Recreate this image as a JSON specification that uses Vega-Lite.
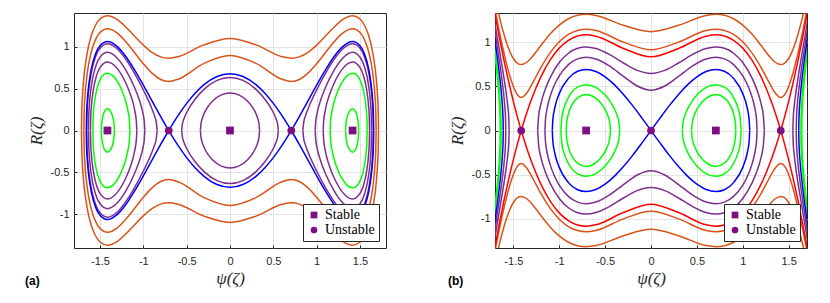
{
"$schema":"https://vega.github.io/schema/vega-lite/v6.json",
"background":"white",
"padding":{"left":24,"top":12,"right":0,"bottom":0},
"spacing":60,
"datasets":{
"aO":[
{"c":1,"x":-1.7138,"y":0},{"c":1,"x":-1.71,"y":0.244},{"c":1,"x":-1.705,"y":0.368},{"c":1,"x":-1.69,"y":0.591},{"c":1,"x":-1.65,"y":0.912},{"c":1,"x":-1.6,"y":1.131},{"c":1,"x":-1.55,"y":1.257},{"c":1,"x":-1.5,"y":1.328},{"c":1,"x":-1.4142,"y":1.366},{"c":1,"x":-1.3,"y":1.32},{"c":1,"x":-1.2,"y":1.23},{"c":1,"x":-1.1,"y":1.122},{"c":1,"x":-1,"y":1.017},{"c":1,"x":-0.9,"y":0.931},{"c":1,"x":-0.8,"y":0.877},{"c":1,"x":-0.7071,"y":0.861},{"c":1,"x":-0.6,"y":0.879},{"c":1,"x":-0.3,"y":1.02},{"c":1,"x":0,"y":1.095},{"c":1,"x":0.3,"y":1.02},{"c":1,"x":0.6,"y":0.879},{"c":1,"x":0.7071,"y":0.861},{"c":1,"x":0.8,"y":0.877},{"c":1,"x":0.9,"y":0.931},{"c":1,"x":1,"y":1.017},{"c":1,"x":1.1,"y":1.122},{"c":1,"x":1.2,"y":1.23},{"c":1,"x":1.3,"y":1.32},{"c":1,"x":1.4142,"y":1.366},{"c":1,"x":1.5,"y":1.328},{"c":1,"x":1.55,"y":1.257},{"c":1,"x":1.6,"y":1.131},{"c":1,"x":1.65,"y":0.912},{"c":1,"x":1.69,"y":0.591},{"c":1,"x":1.705,"y":0.368},{"c":1,"x":1.71,"y":0.244},{"c":1,"x":1.7138,"y":0},
{"c":2,"x":-1.7138,"y":0},{"c":2,"x":-1.71,"y":-0.244},{"c":2,"x":-1.705,"y":-0.368},{"c":2,"x":-1.69,"y":-0.591},{"c":2,"x":-1.65,"y":-0.912},{"c":2,"x":-1.6,"y":-1.131},{"c":2,"x":-1.55,"y":-1.257},{"c":2,"x":-1.5,"y":-1.328},{"c":2,"x":-1.4142,"y":-1.366},{"c":2,"x":-1.3,"y":-1.32},{"c":2,"x":-1.2,"y":-1.23},{"c":2,"x":-1.1,"y":-1.122},{"c":2,"x":-1,"y":-1.017},{"c":2,"x":-0.9,"y":-0.931},{"c":2,"x":-0.8,"y":-0.877},{"c":2,"x":-0.7071,"y":-0.861},{"c":2,"x":-0.6,"y":-0.879},{"c":2,"x":-0.3,"y":-1.02},{"c":2,"x":0,"y":-1.095},{"c":2,"x":0.3,"y":-1.02},{"c":2,"x":0.6,"y":-0.879},{"c":2,"x":0.7071,"y":-0.861},{"c":2,"x":0.8,"y":-0.877},{"c":2,"x":0.9,"y":-0.931},{"c":2,"x":1,"y":-1.017},{"c":2,"x":1.1,"y":-1.122},{"c":2,"x":1.2,"y":-1.23},{"c":2,"x":1.3,"y":-1.32},{"c":2,"x":1.4142,"y":-1.366},{"c":2,"x":1.5,"y":-1.328},{"c":2,"x":1.55,"y":-1.257},{"c":2,"x":1.6,"y":-1.131},{"c":2,"x":1.65,"y":-0.912},{"c":2,"x":1.69,"y":-0.591},{"c":2,"x":1.705,"y":-0.368},{"c":2,"x":1.71,"y":-0.244},{"c":2,"x":1.7138,"y":0},
{"c":3,"x":-1.6862,"y":0},{"c":3,"x":-1.682,"y":0.235},{"c":3,"x":-1.675,"y":0.38},{"c":3,"x":-1.65,"y":0.657},{"c":3,"x":-1.6,"y":0.938},{"c":3,"x":-1.55,"y":1.086},{"c":3,"x":-1.5,"y":1.167},{"c":3,"x":-1.4142,"y":1.211},{"c":3,"x":-1.3,"y":1.159},{"c":3,"x":-1.2,"y":1.055},{"c":3,"x":-1.1,"y":0.927},{"c":3,"x":-1,"y":0.796},{"c":3,"x":-0.9,"y":0.683},{"c":3,"x":-0.8,"y":0.608},{"c":3,"x":-0.7071,"y":0.585},{"c":3,"x":-0.6,"y":0.611},{"c":3,"x":-0.3,"y":0.8},{"c":3,"x":0,"y":0.894},{"c":3,"x":0.3,"y":0.8},{"c":3,"x":0.6,"y":0.611},{"c":3,"x":0.7071,"y":0.585},{"c":3,"x":0.8,"y":0.608},{"c":3,"x":0.9,"y":0.683},{"c":3,"x":1,"y":0.796},{"c":3,"x":1.1,"y":0.927},{"c":3,"x":1.2,"y":1.055},{"c":3,"x":1.3,"y":1.159},{"c":3,"x":1.4142,"y":1.211},{"c":3,"x":1.5,"y":1.167},{"c":3,"x":1.55,"y":1.086},{"c":3,"x":1.6,"y":0.938},{"c":3,"x":1.65,"y":0.657},{"c":3,"x":1.675,"y":0.38},{"c":3,"x":1.682,"y":0.235},{"c":3,"x":1.6862,"y":0},
{"c":4,"x":-1.6862,"y":0},{"c":4,"x":-1.682,"y":-0.235},{"c":4,"x":-1.675,"y":-0.38},{"c":4,"x":-1.65,"y":-0.657},{"c":4,"x":-1.6,"y":-0.938},{"c":4,"x":-1.55,"y":-1.086},{"c":4,"x":-1.5,"y":-1.167},{"c":4,"x":-1.4142,"y":-1.211},{"c":4,"x":-1.3,"y":-1.159},{"c":4,"x":-1.2,"y":-1.055},{"c":4,"x":-1.1,"y":-0.927},{"c":4,"x":-1,"y":-0.796},{"c":4,"x":-0.9,"y":-0.683},{"c":4,"x":-0.8,"y":-0.608},{"c":4,"x":-0.7071,"y":-0.585},{"c":4,"x":-0.6,"y":-0.611},{"c":4,"x":-0.3,"y":-0.8},{"c":4,"x":0,"y":-0.894},{"c":4,"x":0.3,"y":-0.8},{"c":4,"x":0.6,"y":-0.611},{"c":4,"x":0.7071,"y":-0.585},{"c":4,"x":0.8,"y":-0.608},{"c":4,"x":0.9,"y":-0.683},{"c":4,"x":1,"y":-0.796},{"c":4,"x":1.1,"y":-0.927},{"c":4,"x":1.2,"y":-1.055},{"c":4,"x":1.3,"y":-1.159},{"c":4,"x":1.4142,"y":-1.211},{"c":4,"x":1.5,"y":-1.167},{"c":4,"x":1.55,"y":-1.086},{"c":4,"x":1.6,"y":-0.938},{"c":4,"x":1.65,"y":-0.657},{"c":4,"x":1.675,"y":-0.38},{"c":4,"x":1.682,"y":-0.235},{"c":4,"x":1.6862,"y":0}
],
"aB":[
{"c":1,"x":-0.7071,"y":0},{"c":1,"x":-0.65,"y":0.097},{"c":1,"x":-0.6,"y":0.177},{"c":1,"x":-0.5,"y":0.323},{"c":1,"x":-0.4,"y":0.447},{"c":1,"x":-0.3,"y":0.546},{"c":1,"x":-0.15,"y":0.644},{"c":1,"x":0,"y":0.677},{"c":1,"x":0.15,"y":0.644},{"c":1,"x":0.3,"y":0.546},{"c":1,"x":0.4,"y":0.447},{"c":1,"x":0.5,"y":0.323},{"c":1,"x":0.6,"y":0.177},{"c":1,"x":0.65,"y":0.097},{"c":1,"x":0.7071,"y":0},
{"c":2,"x":-0.7071,"y":0},{"c":2,"x":-0.65,"y":-0.097},{"c":2,"x":-0.6,"y":-0.177},{"c":2,"x":-0.5,"y":-0.323},{"c":2,"x":-0.4,"y":-0.447},{"c":2,"x":-0.3,"y":-0.546},{"c":2,"x":-0.15,"y":-0.644},{"c":2,"x":0,"y":-0.677},{"c":2,"x":0.15,"y":-0.644},{"c":2,"x":0.3,"y":-0.546},{"c":2,"x":0.4,"y":-0.447},{"c":2,"x":0.5,"y":-0.323},{"c":2,"x":0.6,"y":-0.177},{"c":2,"x":0.65,"y":-0.097},{"c":2,"x":0.7071,"y":0},
{"c":3,"x":0.7071,"y":0},{"c":3,"x":0.8,"y":0.166},{"c":3,"x":0.9,"y":0.353},{"c":3,"x":1,"y":0.54},{"c":3,"x":1.1,"y":0.719},{"c":3,"x":1.2,"y":0.879},{"c":3,"x":1.3,"y":1},{"c":3,"x":1.4142,"y":1.061},{"c":3,"x":1.5,"y":1.01},{"c":3,"x":1.55,"y":0.916},{"c":3,"x":1.6,"y":0.733},{"c":3,"x":1.625,"y":0.578},{"c":3,"x":1.65,"y":0.301},{"c":3,"x":1.655,"y":0.192},{"c":3,"x":1.6583,"y":0},
{"c":4,"x":0.7071,"y":0},{"c":4,"x":0.8,"y":-0.166},{"c":4,"x":0.9,"y":-0.353},{"c":4,"x":1,"y":-0.54},{"c":4,"x":1.1,"y":-0.719},{"c":4,"x":1.2,"y":-0.879},{"c":4,"x":1.3,"y":-1},{"c":4,"x":1.4142,"y":-1.061},{"c":4,"x":1.5,"y":-1.01},{"c":4,"x":1.55,"y":-0.916},{"c":4,"x":1.6,"y":-0.733},{"c":4,"x":1.625,"y":-0.578},{"c":4,"x":1.65,"y":-0.301},{"c":4,"x":1.655,"y":-0.192},{"c":4,"x":1.6583,"y":0},
{"c":5,"x":-0.7071,"y":0},{"c":5,"x":-0.8,"y":0.166},{"c":5,"x":-0.9,"y":0.353},{"c":5,"x":-1,"y":0.54},{"c":5,"x":-1.1,"y":0.719},{"c":5,"x":-1.2,"y":0.879},{"c":5,"x":-1.3,"y":1},{"c":5,"x":-1.4142,"y":1.061},{"c":5,"x":-1.5,"y":1.01},{"c":5,"x":-1.55,"y":0.916},{"c":5,"x":-1.6,"y":0.733},{"c":5,"x":-1.625,"y":0.578},{"c":5,"x":-1.65,"y":0.301},{"c":5,"x":-1.655,"y":0.192},{"c":5,"x":-1.6583,"y":0},
{"c":6,"x":-0.7071,"y":0},{"c":6,"x":-0.8,"y":-0.166},{"c":6,"x":-0.9,"y":-0.353},{"c":6,"x":-1,"y":-0.54},{"c":6,"x":-1.1,"y":-0.719},{"c":6,"x":-1.2,"y":-0.879},{"c":6,"x":-1.3,"y":-1},{"c":6,"x":-1.4142,"y":-1.061},{"c":6,"x":-1.5,"y":-1.01},{"c":6,"x":-1.55,"y":-0.916},{"c":6,"x":-1.6,"y":-0.733},{"c":6,"x":-1.625,"y":-0.578},{"c":6,"x":-1.65,"y":-0.301},{"c":6,"x":-1.655,"y":-0.192},{"c":6,"x":-1.6583,"y":0}
],
"aP":[
{"c":1,"x":-0.5573,"y":0},{"c":1,"x":-0.55,"y":0.073},{"c":1,"x":-0.53,"y":0.144},{"c":1,"x":-0.5,"y":0.214},{"c":1,"x":-0.4,"y":0.376},{"c":1,"x":-0.3,"y":0.49},{"c":1,"x":-0.15,"y":0.597},{"c":1,"x":0,"y":0.632},{"c":1,"x":0.15,"y":0.597},{"c":1,"x":0.3,"y":0.49},{"c":1,"x":0.4,"y":0.376},{"c":1,"x":0.5,"y":0.214},{"c":1,"x":0.53,"y":0.144},{"c":1,"x":0.55,"y":0.073},{"c":1,"x":0.5573,"y":0},
{"c":2,"x":-0.5573,"y":0},{"c":2,"x":-0.55,"y":-0.073},{"c":2,"x":-0.53,"y":-0.144},{"c":2,"x":-0.5,"y":-0.214},{"c":2,"x":-0.4,"y":-0.376},{"c":2,"x":-0.3,"y":-0.49},{"c":2,"x":-0.15,"y":-0.597},{"c":2,"x":0,"y":-0.632},{"c":2,"x":0.15,"y":-0.597},{"c":2,"x":0.3,"y":-0.49},{"c":2,"x":0.4,"y":-0.376},{"c":2,"x":0.5,"y":-0.214},{"c":2,"x":0.53,"y":-0.144},{"c":2,"x":0.55,"y":-0.073},{"c":2,"x":0.5573,"y":0},
{"c":3,"x":-0.3412,"y":0},{"c":3,"x":-0.335,"y":0.078},{"c":3,"x":-0.32,"y":0.144},{"c":3,"x":-0.3,"y":0.199},{"c":3,"x":-0.25,"y":0.291},{"c":3,"x":-0.2,"y":0.352},{"c":3,"x":-0.1,"y":0.425},{"c":3,"x":0,"y":0.447},{"c":3,"x":0.1,"y":0.425},{"c":3,"x":0.2,"y":0.352},{"c":3,"x":0.25,"y":0.291},{"c":3,"x":0.3,"y":0.199},{"c":3,"x":0.32,"y":0.144},{"c":3,"x":0.335,"y":0.078},{"c":3,"x":0.3412,"y":0},
{"c":4,"x":-0.3412,"y":0},{"c":4,"x":-0.335,"y":-0.078},{"c":4,"x":-0.32,"y":-0.144},{"c":4,"x":-0.3,"y":-0.199},{"c":4,"x":-0.25,"y":-0.291},{"c":4,"x":-0.2,"y":-0.352},{"c":4,"x":-0.1,"y":-0.425},{"c":4,"x":0,"y":-0.447},{"c":4,"x":0.1,"y":-0.425},{"c":4,"x":0.2,"y":-0.352},{"c":4,"x":0.25,"y":-0.291},{"c":4,"x":0.3,"y":-0.199},{"c":4,"x":0.32,"y":-0.144},{"c":4,"x":0.335,"y":-0.078},{"c":4,"x":0.3412,"y":0},
{"c":5,"x":0.8408,"y":0},{"c":5,"x":0.85,"y":0.093},{"c":5,"x":0.87,"y":0.171},{"c":5,"x":0.9,"y":0.257},{"c":5,"x":1,"y":0.483},{"c":5,"x":1.1,"y":0.678},{"c":5,"x":1.2,"y":0.845},{"c":5,"x":1.3,"y":0.971},{"c":5,"x":1.4142,"y":1.033},{"c":5,"x":1.5,"y":0.981},{"c":5,"x":1.55,"y":0.883},{"c":5,"x":1.6,"y":0.692},{"c":5,"x":1.625,"y":0.525},{"c":5,"x":1.64,"y":0.367},{"c":5,"x":1.65,"y":0.18},{"c":5,"x":1.653,"y":0},
{"c":6,"x":0.8408,"y":0},{"c":6,"x":0.85,"y":-0.093},{"c":6,"x":0.87,"y":-0.171},{"c":6,"x":0.9,"y":-0.257},{"c":6,"x":1,"y":-0.483},{"c":6,"x":1.1,"y":-0.678},{"c":6,"x":1.2,"y":-0.845},{"c":6,"x":1.3,"y":-0.971},{"c":6,"x":1.4142,"y":-1.033},{"c":6,"x":1.5,"y":-0.981},{"c":6,"x":1.55,"y":-0.883},{"c":6,"x":1.6,"y":-0.692},{"c":6,"x":1.625,"y":-0.525},{"c":6,"x":1.64,"y":-0.367},{"c":6,"x":1.65,"y":-0.18},{"c":6,"x":1.653,"y":0},
{"c":7,"x":-0.8408,"y":0},{"c":7,"x":-0.85,"y":0.093},{"c":7,"x":-0.87,"y":0.171},{"c":7,"x":-0.9,"y":0.257},{"c":7,"x":-1,"y":0.483},{"c":7,"x":-1.1,"y":0.678},{"c":7,"x":-1.2,"y":0.845},{"c":7,"x":-1.3,"y":0.971},{"c":7,"x":-1.4142,"y":1.033},{"c":7,"x":-1.5,"y":0.981},{"c":7,"x":-1.55,"y":0.883},{"c":7,"x":-1.6,"y":0.692},{"c":7,"x":-1.625,"y":0.525},{"c":7,"x":-1.64,"y":0.367},{"c":7,"x":-1.65,"y":0.18},{"c":7,"x":-1.653,"y":0},
{"c":8,"x":-0.8408,"y":0},{"c":8,"x":-0.85,"y":-0.093},{"c":8,"x":-0.87,"y":-0.171},{"c":8,"x":-0.9,"y":-0.257},{"c":8,"x":-1,"y":-0.483},{"c":8,"x":-1.1,"y":-0.678},{"c":8,"x":-1.2,"y":-0.845},{"c":8,"x":-1.3,"y":-0.971},{"c":8,"x":-1.4142,"y":-1.033},{"c":8,"x":-1.5,"y":-0.981},{"c":8,"x":-1.55,"y":-0.883},{"c":8,"x":-1.6,"y":-0.692},{"c":8,"x":-1.625,"y":-0.525},{"c":8,"x":-1.64,"y":-0.367},{"c":8,"x":-1.65,"y":-0.18},{"c":8,"x":-1.653,"y":0},
{"c":9,"x":0.9829,"y":0},{"c":9,"x":0.99,"y":0.117},{"c":9,"x":1,"y":0.183},{"c":9,"x":1.05,"y":0.375},{"c":9,"x":1.1,"y":0.509},{"c":9,"x":1.2,"y":0.717},{"c":9,"x":1.3,"y":0.862},{"c":9,"x":1.4142,"y":0.931},{"c":9,"x":1.5,"y":0.873},{"c":9,"x":1.55,"y":0.762},{"c":9,"x":1.6,"y":0.528},{"c":9,"x":1.625,"y":0.275},{"c":9,"x":1.63,"y":0.174},{"c":9,"x":1.6332,"y":0},
{"c":10,"x":0.9829,"y":0},{"c":10,"x":0.99,"y":-0.117},{"c":10,"x":1,"y":-0.183},{"c":10,"x":1.05,"y":-0.375},{"c":10,"x":1.1,"y":-0.509},{"c":10,"x":1.2,"y":-0.717},{"c":10,"x":1.3,"y":-0.862},{"c":10,"x":1.4142,"y":-0.931},{"c":10,"x":1.5,"y":-0.873},{"c":10,"x":1.55,"y":-0.762},{"c":10,"x":1.6,"y":-0.528},{"c":10,"x":1.625,"y":-0.275},{"c":10,"x":1.63,"y":-0.174},{"c":10,"x":1.6332,"y":0},
{"c":11,"x":-0.9829,"y":0},{"c":11,"x":-0.99,"y":0.117},{"c":11,"x":-1,"y":0.183},{"c":11,"x":-1.05,"y":0.375},{"c":11,"x":-1.1,"y":0.509},{"c":11,"x":-1.2,"y":0.717},{"c":11,"x":-1.3,"y":0.862},{"c":11,"x":-1.4142,"y":0.931},{"c":11,"x":-1.5,"y":0.873},{"c":11,"x":-1.55,"y":0.762},{"c":11,"x":-1.6,"y":0.528},{"c":11,"x":-1.625,"y":0.275},{"c":11,"x":-1.63,"y":0.174},{"c":11,"x":-1.6332,"y":0},
{"c":12,"x":-0.9829,"y":0},{"c":12,"x":-0.99,"y":-0.117},{"c":12,"x":-1,"y":-0.183},{"c":12,"x":-1.05,"y":-0.375},{"c":12,"x":-1.1,"y":-0.509},{"c":12,"x":-1.2,"y":-0.717},{"c":12,"x":-1.3,"y":-0.862},{"c":12,"x":-1.4142,"y":-0.931},{"c":12,"x":-1.5,"y":-0.873},{"c":12,"x":-1.55,"y":-0.762},{"c":12,"x":-1.6,"y":-0.528},{"c":12,"x":-1.625,"y":-0.275},{"c":12,"x":-1.63,"y":-0.174},{"c":12,"x":-1.6332,"y":0},
{"c":13,"x":1.0756,"y":0},{"c":13,"x":1.08,"y":0.103},{"c":13,"x":1.1,"y":0.243},{"c":13,"x":1.15,"y":0.431},{"c":13,"x":1.2,"y":0.56},{"c":13,"x":1.3,"y":0.737},{"c":13,"x":1.4142,"y":0.816},{"c":13,"x":1.5,"y":0.75},{"c":13,"x":1.55,"y":0.617},{"c":13,"x":1.575,"y":0.496},{"c":13,"x":1.6,"y":0.281},{"c":13,"x":1.607,"y":0.162},{"c":13,"x":1.6103,"y":0},
{"c":14,"x":1.0756,"y":0},{"c":14,"x":1.08,"y":-0.103},{"c":14,"x":1.1,"y":-0.243},{"c":14,"x":1.15,"y":-0.431},{"c":14,"x":1.2,"y":-0.56},{"c":14,"x":1.3,"y":-0.737},{"c":14,"x":1.4142,"y":-0.816},{"c":14,"x":1.5,"y":-0.75},{"c":14,"x":1.55,"y":-0.617},{"c":14,"x":1.575,"y":-0.496},{"c":14,"x":1.6,"y":-0.281},{"c":14,"x":1.607,"y":-0.162},{"c":14,"x":1.6103,"y":0},
{"c":15,"x":-1.0756,"y":0},{"c":15,"x":-1.08,"y":0.103},{"c":15,"x":-1.1,"y":0.243},{"c":15,"x":-1.15,"y":0.431},{"c":15,"x":-1.2,"y":0.56},{"c":15,"x":-1.3,"y":0.737},{"c":15,"x":-1.4142,"y":0.816},{"c":15,"x":-1.5,"y":0.75},{"c":15,"x":-1.55,"y":0.617},{"c":15,"x":-1.575,"y":0.496},{"c":15,"x":-1.6,"y":0.281},{"c":15,"x":-1.607,"y":0.162},{"c":15,"x":-1.6103,"y":0},
{"c":16,"x":-1.0756,"y":0},{"c":16,"x":-1.08,"y":-0.103},{"c":16,"x":-1.1,"y":-0.243},{"c":16,"x":-1.15,"y":-0.431},{"c":16,"x":-1.2,"y":-0.56},{"c":16,"x":-1.3,"y":-0.737},{"c":16,"x":-1.4142,"y":-0.816},{"c":16,"x":-1.5,"y":-0.75},{"c":16,"x":-1.55,"y":-0.617},{"c":16,"x":-1.575,"y":-0.496},{"c":16,"x":-1.6,"y":-0.281},{"c":16,"x":-1.607,"y":-0.162},{"c":16,"x":-1.6103,"y":0}
],
"aG":[
{"c":1,"x":1.1557,"y":0},{"c":1,"x":1.16,"y":0.106},{"c":1,"x":1.175,"y":0.223},{"c":1,"x":1.2,"y":0.337},{"c":1,"x":1.25,"y":0.485},{"c":1,"x":1.3,"y":0.585},{"c":1,"x":1.35,"y":0.651},{"c":1,"x":1.4142,"y":0.683},{"c":1,"x":1.45,"y":0.671},{"c":1,"x":1.5,"y":0.602},{"c":1,"x":1.55,"y":0.425},{"c":1,"x":1.575,"y":0.215},{"c":1,"x":1.58,"y":0.125},{"c":1,"x":1.5825,"y":0},
{"c":2,"x":1.1557,"y":0},{"c":2,"x":1.16,"y":-0.106},{"c":2,"x":1.175,"y":-0.223},{"c":2,"x":1.2,"y":-0.337},{"c":2,"x":1.25,"y":-0.485},{"c":2,"x":1.3,"y":-0.585},{"c":2,"x":1.35,"y":-0.651},{"c":2,"x":1.4142,"y":-0.683},{"c":2,"x":1.45,"y":-0.671},{"c":2,"x":1.5,"y":-0.602},{"c":2,"x":1.55,"y":-0.425},{"c":2,"x":1.575,"y":-0.215},{"c":2,"x":1.58,"y":-0.125},{"c":2,"x":1.5825,"y":0},
{"c":3,"x":-1.1557,"y":0},{"c":3,"x":-1.16,"y":0.106},{"c":3,"x":-1.175,"y":0.223},{"c":3,"x":-1.2,"y":0.337},{"c":3,"x":-1.25,"y":0.485},{"c":3,"x":-1.3,"y":0.585},{"c":3,"x":-1.35,"y":0.651},{"c":3,"x":-1.4142,"y":0.683},{"c":3,"x":-1.45,"y":0.671},{"c":3,"x":-1.5,"y":0.602},{"c":3,"x":-1.55,"y":0.425},{"c":3,"x":-1.575,"y":0.215},{"c":3,"x":-1.58,"y":0.125},{"c":3,"x":-1.5825,"y":0},
{"c":4,"x":-1.1557,"y":0},{"c":4,"x":-1.16,"y":-0.106},{"c":4,"x":-1.175,"y":-0.223},{"c":4,"x":-1.2,"y":-0.337},{"c":4,"x":-1.25,"y":-0.485},{"c":4,"x":-1.3,"y":-0.585},{"c":4,"x":-1.35,"y":-0.651},{"c":4,"x":-1.4142,"y":-0.683},{"c":4,"x":-1.45,"y":-0.671},{"c":4,"x":-1.5,"y":-0.602},{"c":4,"x":-1.55,"y":-0.425},{"c":4,"x":-1.575,"y":-0.215},{"c":4,"x":-1.58,"y":-0.125},{"c":4,"x":-1.5825,"y":0},
{"c":5,"x":1.3334,"y":0},{"c":5,"x":1.34,"y":0.098},{"c":5,"x":1.35,"y":0.152},{"c":5,"x":1.375,"y":0.223},{"c":5,"x":1.4142,"y":0.258},{"c":5,"x":1.45,"y":0.224},{"c":5,"x":1.475,"y":0.13},{"c":5,"x":1.48,"y":0.088},{"c":5,"x":1.4839,"y":0},
{"c":6,"x":1.3334,"y":0},{"c":6,"x":1.34,"y":-0.098},{"c":6,"x":1.35,"y":-0.152},{"c":6,"x":1.375,"y":-0.223},{"c":6,"x":1.4142,"y":-0.258},{"c":6,"x":1.45,"y":-0.224},{"c":6,"x":1.475,"y":-0.13},{"c":6,"x":1.48,"y":-0.088},{"c":6,"x":1.4839,"y":0},
{"c":7,"x":-1.3334,"y":0},{"c":7,"x":-1.34,"y":0.098},{"c":7,"x":-1.35,"y":0.152},{"c":7,"x":-1.375,"y":0.223},{"c":7,"x":-1.4142,"y":0.258},{"c":7,"x":-1.45,"y":0.224},{"c":7,"x":-1.475,"y":0.13},{"c":7,"x":-1.48,"y":0.088},{"c":7,"x":-1.4839,"y":0},
{"c":8,"x":-1.3334,"y":0},{"c":8,"x":-1.34,"y":-0.098},{"c":8,"x":-1.35,"y":-0.152},{"c":8,"x":-1.375,"y":-0.223},{"c":8,"x":-1.4142,"y":-0.258},{"c":8,"x":-1.45,"y":-0.224},{"c":8,"x":-1.475,"y":-0.13},{"c":8,"x":-1.48,"y":-0.088},{"c":8,"x":-1.4839,"y":0}
],
"aS":[
{"x":-1.4142,"y":0,"s":"Stable"},{"x":0,"y":0,"s":"Stable"},{"x":1.4142,"y":0,"s":"Stable"},{"x":-0.7071,"y":0,"s":"Unstable"},{"x":0.7071,"y":0,"s":"Unstable"}
],
"bO":[
{"c":1,"x":-1.7,"y":1.517},{"c":1,"x":-1.65,"y":1.283},{"c":1,"x":-1.6,"y":1.085},{"c":1,"x":-1.5,"y":0.818},{"c":1,"x":-1.45,"y":0.76},{"c":1,"x":-1.4142,"y":0.749},{"c":1,"x":-1.35,"y":0.778},{"c":1,"x":-1.3,"y":0.831},{"c":1,"x":-1.2,"y":0.965},{"c":1,"x":-1.1,"y":1.095},{"c":1,"x":-1,"y":1.198},{"c":1,"x":-0.9,"y":1.27},{"c":1,"x":-0.8,"y":1.309},{"c":1,"x":-0.7071,"y":1.32},{"c":1,"x":-0.6,"y":1.307},{"c":1,"x":-0.3,"y":1.195},{"c":1,"x":0,"y":1.123},{"c":1,"x":0.3,"y":1.195},{"c":1,"x":0.6,"y":1.307},{"c":1,"x":0.7071,"y":1.32},{"c":1,"x":0.8,"y":1.309},{"c":1,"x":0.9,"y":1.27},{"c":1,"x":1,"y":1.198},{"c":1,"x":1.1,"y":1.095},{"c":1,"x":1.2,"y":0.965},{"c":1,"x":1.3,"y":0.831},{"c":1,"x":1.35,"y":0.778},{"c":1,"x":1.4142,"y":0.749},{"c":1,"x":1.45,"y":0.76},{"c":1,"x":1.5,"y":0.818},{"c":1,"x":1.6,"y":1.085},{"c":1,"x":1.65,"y":1.283},{"c":1,"x":1.7,"y":1.517},
{"c":2,"x":-1.7,"y":-1.517},{"c":2,"x":-1.65,"y":-1.283},{"c":2,"x":-1.6,"y":-1.085},{"c":2,"x":-1.5,"y":-0.818},{"c":2,"x":-1.45,"y":-0.76},{"c":2,"x":-1.4142,"y":-0.749},{"c":2,"x":-1.35,"y":-0.778},{"c":2,"x":-1.3,"y":-0.831},{"c":2,"x":-1.2,"y":-0.965},{"c":2,"x":-1.1,"y":-1.095},{"c":2,"x":-1,"y":-1.198},{"c":2,"x":-0.9,"y":-1.27},{"c":2,"x":-0.8,"y":-1.309},{"c":2,"x":-0.7071,"y":-1.32},{"c":2,"x":-0.6,"y":-1.307},{"c":2,"x":-0.3,"y":-1.195},{"c":2,"x":0,"y":-1.123},{"c":2,"x":0.3,"y":-1.195},{"c":2,"x":0.6,"y":-1.307},{"c":2,"x":0.7071,"y":-1.32},{"c":2,"x":0.8,"y":-1.309},{"c":2,"x":0.9,"y":-1.27},{"c":2,"x":1,"y":-1.198},{"c":2,"x":1.1,"y":-1.095},{"c":2,"x":1.2,"y":-0.965},{"c":2,"x":1.3,"y":-0.831},{"c":2,"x":1.35,"y":-0.778},{"c":2,"x":1.4142,"y":-0.749},{"c":2,"x":1.45,"y":-0.76},{"c":2,"x":1.5,"y":-0.818},{"c":2,"x":1.6,"y":-1.085},{"c":2,"x":1.65,"y":-1.283},{"c":2,"x":1.7,"y":-1.517},
{"c":3,"x":-1.7,"y":1.372},{"c":3,"x":-1.65,"y":1.108},{"c":3,"x":-1.6,"y":0.87},{"c":3,"x":-1.55,"y":0.664},{"c":3,"x":-1.5,"y":0.499},{"c":3,"x":-1.45,"y":0.397},{"c":3,"x":-1.4142,"y":0.374},{"c":3,"x":-1.35,"y":0.431},{"c":3,"x":-1.3,"y":0.52},{"c":3,"x":-1.2,"y":0.715},{"c":3,"x":-1.1,"y":0.882},{"c":3,"x":-1,"y":1.008},{"c":3,"x":-0.9,"y":1.092},{"c":3,"x":-0.8,"y":1.137},{"c":3,"x":-0.7071,"y":1.15},{"c":3,"x":-0.6,"y":1.135},{"c":3,"x":-0.3,"y":1.004},{"c":3,"x":0,"y":0.917},{"c":3,"x":0.3,"y":1.004},{"c":3,"x":0.6,"y":1.135},{"c":3,"x":0.7071,"y":1.15},{"c":3,"x":0.8,"y":1.137},{"c":3,"x":0.9,"y":1.092},{"c":3,"x":1,"y":1.008},{"c":3,"x":1.1,"y":0.882},{"c":3,"x":1.2,"y":0.715},{"c":3,"x":1.3,"y":0.52},{"c":3,"x":1.35,"y":0.431},{"c":3,"x":1.4142,"y":0.374},{"c":3,"x":1.45,"y":0.397},{"c":3,"x":1.5,"y":0.499},{"c":3,"x":1.55,"y":0.664},{"c":3,"x":1.6,"y":0.87},{"c":3,"x":1.65,"y":1.108},{"c":3,"x":1.7,"y":1.372},
{"c":4,"x":-1.7,"y":-1.372},{"c":4,"x":-1.65,"y":-1.108},{"c":4,"x":-1.6,"y":-0.87},{"c":4,"x":-1.55,"y":-0.664},{"c":4,"x":-1.5,"y":-0.499},{"c":4,"x":-1.45,"y":-0.397},{"c":4,"x":-1.4142,"y":-0.374},{"c":4,"x":-1.35,"y":-0.431},{"c":4,"x":-1.3,"y":-0.52},{"c":4,"x":-1.2,"y":-0.715},{"c":4,"x":-1.1,"y":-0.882},{"c":4,"x":-1,"y":-1.008},{"c":4,"x":-0.9,"y":-1.092},{"c":4,"x":-0.8,"y":-1.137},{"c":4,"x":-0.7071,"y":-1.15},{"c":4,"x":-0.6,"y":-1.135},{"c":4,"x":-0.3,"y":-1.004},{"c":4,"x":0,"y":-0.917},{"c":4,"x":0.3,"y":-1.004},{"c":4,"x":0.6,"y":-1.135},{"c":4,"x":0.7071,"y":-1.15},{"c":4,"x":0.8,"y":-1.137},{"c":4,"x":0.9,"y":-1.092},{"c":4,"x":1,"y":-1.008},{"c":4,"x":1.1,"y":-0.882},{"c":4,"x":1.2,"y":-0.715},{"c":4,"x":1.3,"y":-0.52},{"c":4,"x":1.35,"y":-0.431},{"c":4,"x":1.4142,"y":-0.374},{"c":4,"x":1.45,"y":-0.397},{"c":4,"x":1.5,"y":-0.499},{"c":4,"x":1.55,"y":-0.664},{"c":4,"x":1.6,"y":-0.87},{"c":4,"x":1.65,"y":-1.108},{"c":4,"x":1.7,"y":-1.372}
],
"bR":[
{"c":1,"x":-1.4142,"y":0},{"c":1,"x":-1.38,"y":0.117},{"c":1,"x":-1.35,"y":0.214},{"c":1,"x":-1.3,"y":0.361},{"c":1,"x":-1.2,"y":0.609},{"c":1,"x":-1.1,"y":0.799},{"c":1,"x":-1,"y":0.936},{"c":1,"x":-0.9,"y":1.025},{"c":1,"x":-0.8,"y":1.074},{"c":1,"x":-0.7071,"y":1.087},{"c":1,"x":-0.6,"y":1.072},{"c":1,"x":-0.3,"y":0.932},{"c":1,"x":0,"y":0.837},{"c":1,"x":0.3,"y":0.932},{"c":1,"x":0.6,"y":1.072},{"c":1,"x":0.7071,"y":1.087},{"c":1,"x":0.8,"y":1.074},{"c":1,"x":0.9,"y":1.025},{"c":1,"x":1,"y":0.936},{"c":1,"x":1.1,"y":0.799},{"c":1,"x":1.2,"y":0.609},{"c":1,"x":1.3,"y":0.361},{"c":1,"x":1.35,"y":0.214},{"c":1,"x":1.38,"y":0.117},{"c":1,"x":1.4142,"y":0},
{"c":2,"x":-1.4142,"y":0},{"c":2,"x":-1.38,"y":-0.117},{"c":2,"x":-1.35,"y":-0.214},{"c":2,"x":-1.3,"y":-0.361},{"c":2,"x":-1.2,"y":-0.609},{"c":2,"x":-1.1,"y":-0.799},{"c":2,"x":-1,"y":-0.936},{"c":2,"x":-0.9,"y":-1.025},{"c":2,"x":-0.8,"y":-1.074},{"c":2,"x":-0.7071,"y":-1.087},{"c":2,"x":-0.6,"y":-1.072},{"c":2,"x":-0.3,"y":-0.932},{"c":2,"x":0,"y":-0.837},{"c":2,"x":0.3,"y":-0.932},{"c":2,"x":0.6,"y":-1.072},{"c":2,"x":0.7071,"y":-1.087},{"c":2,"x":0.8,"y":-1.074},{"c":2,"x":0.9,"y":-1.025},{"c":2,"x":1,"y":-0.936},{"c":2,"x":1.1,"y":-0.799},{"c":2,"x":1.2,"y":-0.609},{"c":2,"x":1.3,"y":-0.361},{"c":2,"x":1.35,"y":-0.214},{"c":2,"x":1.38,"y":-0.117},{"c":2,"x":1.4142,"y":0},
{"c":3,"x":1.4142,"y":0},{"c":3,"x":1.45,"y":0.132},{"c":3,"x":1.5,"y":0.331},{"c":3,"x":1.55,"y":0.549},{"c":3,"x":1.6,"y":0.786},{"c":3,"x":1.65,"y":1.043},{"c":3,"x":1.7,"y":1.32},{"c":3,"x":1.75,"y":1.618},
{"c":4,"x":1.4142,"y":0},{"c":4,"x":1.45,"y":-0.132},{"c":4,"x":1.5,"y":-0.331},{"c":4,"x":1.55,"y":-0.549},{"c":4,"x":1.6,"y":-0.786},{"c":4,"x":1.65,"y":-1.043},{"c":4,"x":1.7,"y":-1.32},{"c":4,"x":1.75,"y":-1.618},
{"c":5,"x":-1.4142,"y":0},{"c":5,"x":-1.45,"y":0.132},{"c":5,"x":-1.5,"y":0.331},{"c":5,"x":-1.55,"y":0.549},{"c":5,"x":-1.6,"y":0.786},{"c":5,"x":-1.65,"y":1.043},{"c":5,"x":-1.7,"y":1.32},{"c":5,"x":-1.75,"y":1.618},
{"c":6,"x":-1.4142,"y":0},{"c":6,"x":-1.45,"y":-0.132},{"c":6,"x":-1.5,"y":-0.331},{"c":6,"x":-1.55,"y":-0.549},{"c":6,"x":-1.6,"y":-0.786},{"c":6,"x":-1.65,"y":-1.043},{"c":6,"x":-1.7,"y":-1.32},{"c":6,"x":-1.75,"y":-1.618}
],
"bP":[
{"c":1,"x":-1.2351,"y":0},{"c":1,"x":-1.225,"y":0.16},{"c":1,"x":-1.2,"y":0.302},{"c":1,"x":-1.15,"y":0.475},{"c":1,"x":-1.1,"y":0.598},{"c":1,"x":-1,"y":0.772},{"c":1,"x":-0.9,"y":0.878},{"c":1,"x":-0.8,"y":0.934},{"c":1,"x":-0.7071,"y":0.95},{"c":1,"x":-0.6,"y":0.932},{"c":1,"x":-0.45,"y":0.862},{"c":1,"x":-0.3,"y":0.767},{"c":1,"x":-0.15,"y":0.683},{"c":1,"x":0,"y":0.648},{"c":1,"x":0.15,"y":0.683},{"c":1,"x":0.3,"y":0.767},{"c":1,"x":0.45,"y":0.862},{"c":1,"x":0.6,"y":0.932},{"c":1,"x":0.7071,"y":0.95},{"c":1,"x":0.8,"y":0.934},{"c":1,"x":0.9,"y":0.878},{"c":1,"x":1,"y":0.772},{"c":1,"x":1.1,"y":0.598},{"c":1,"x":1.15,"y":0.475},{"c":1,"x":1.2,"y":0.302},{"c":1,"x":1.225,"y":0.16},{"c":1,"x":1.2351,"y":0},
{"c":2,"x":-1.2351,"y":0},{"c":2,"x":-1.225,"y":-0.16},{"c":2,"x":-1.2,"y":-0.302},{"c":2,"x":-1.15,"y":-0.475},{"c":2,"x":-1.1,"y":-0.598},{"c":2,"x":-1,"y":-0.772},{"c":2,"x":-0.9,"y":-0.878},{"c":2,"x":-0.8,"y":-0.934},{"c":2,"x":-0.7071,"y":-0.95},{"c":2,"x":-0.6,"y":-0.932},{"c":2,"x":-0.45,"y":-0.862},{"c":2,"x":-0.3,"y":-0.767},{"c":2,"x":-0.15,"y":-0.683},{"c":2,"x":0,"y":-0.648},{"c":2,"x":0.15,"y":-0.683},{"c":2,"x":0.3,"y":-0.767},{"c":2,"x":0.45,"y":-0.862},{"c":2,"x":0.6,"y":-0.932},{"c":2,"x":0.7071,"y":-0.95},{"c":2,"x":0.8,"y":-0.934},{"c":2,"x":0.9,"y":-0.878},{"c":2,"x":1,"y":-0.772},{"c":2,"x":1.1,"y":-0.598},{"c":2,"x":1.15,"y":-0.475},{"c":2,"x":1.2,"y":-0.302},{"c":2,"x":1.225,"y":-0.16},{"c":2,"x":1.2351,"y":0},
{"c":3,"x":-1.1557,"y":0},{"c":3,"x":-1.15,"y":0.124},{"c":3,"x":-1.14,"y":0.205},{"c":3,"x":-1.125,"y":0.287},{"c":3,"x":-1.1,"y":0.385},{"c":3,"x":-1.05,"y":0.522},{"c":3,"x":-1,"y":0.621},{"c":3,"x":-0.9,"y":0.749},{"c":3,"x":-0.8,"y":0.814},{"c":3,"x":-0.7071,"y":0.832},{"c":3,"x":-0.6,"y":0.812},{"c":3,"x":-0.45,"y":0.731},{"c":3,"x":-0.3,"y":0.615},{"c":3,"x":-0.15,"y":0.506},{"c":3,"x":0,"y":0.458},{"c":3,"x":0.15,"y":0.506},{"c":3,"x":0.3,"y":0.615},{"c":3,"x":0.45,"y":0.731},{"c":3,"x":0.6,"y":0.812},{"c":3,"x":0.7071,"y":0.832},{"c":3,"x":0.8,"y":0.814},{"c":3,"x":0.9,"y":0.749},{"c":3,"x":1,"y":0.621},{"c":3,"x":1.05,"y":0.522},{"c":3,"x":1.1,"y":0.385},{"c":3,"x":1.125,"y":0.287},{"c":3,"x":1.14,"y":0.205},{"c":3,"x":1.15,"y":0.124},{"c":3,"x":1.1557,"y":0},
{"c":4,"x":-1.1557,"y":0},{"c":4,"x":-1.15,"y":-0.124},{"c":4,"x":-1.14,"y":-0.205},{"c":4,"x":-1.125,"y":-0.287},{"c":4,"x":-1.1,"y":-0.385},{"c":4,"x":-1.05,"y":-0.522},{"c":4,"x":-1,"y":-0.621},{"c":4,"x":-0.9,"y":-0.749},{"c":4,"x":-0.8,"y":-0.814},{"c":4,"x":-0.7071,"y":-0.832},{"c":4,"x":-0.6,"y":-0.812},{"c":4,"x":-0.45,"y":-0.731},{"c":4,"x":-0.3,"y":-0.615},{"c":4,"x":-0.15,"y":-0.506},{"c":4,"x":0,"y":-0.458},{"c":4,"x":0.15,"y":-0.506},{"c":4,"x":0.3,"y":-0.615},{"c":4,"x":0.45,"y":-0.731},{"c":4,"x":0.6,"y":-0.812},{"c":4,"x":0.7071,"y":-0.832},{"c":4,"x":0.8,"y":-0.814},{"c":4,"x":0.9,"y":-0.749},{"c":4,"x":1,"y":-0.621},{"c":4,"x":1.05,"y":-0.522},{"c":4,"x":1.1,"y":-0.385},{"c":4,"x":1.125,"y":-0.287},{"c":4,"x":1.14,"y":-0.205},{"c":4,"x":1.15,"y":-0.124},{"c":4,"x":1.1557,"y":0},
{"c":5,"x":1.5457,"y":0},{"c":5,"x":1.55,"y":0.144},{"c":5,"x":1.56,"y":0.271},{"c":5,"x":1.575,"y":0.402},{"c":5,"x":1.6,"y":0.581},{"c":5,"x":1.65,"y":0.898},{"c":5,"x":1.7,"y":1.209},{"c":5,"x":1.75,"y":1.529},
{"c":6,"x":1.5457,"y":0},{"c":6,"x":1.55,"y":-0.144},{"c":6,"x":1.56,"y":-0.271},{"c":6,"x":1.575,"y":-0.402},{"c":6,"x":1.6,"y":-0.581},{"c":6,"x":1.65,"y":-0.898},{"c":6,"x":1.7,"y":-1.209},{"c":6,"x":1.75,"y":-1.529},
{"c":7,"x":-1.5457,"y":0},{"c":7,"x":-1.55,"y":0.144},{"c":7,"x":-1.56,"y":0.271},{"c":7,"x":-1.575,"y":0.402},{"c":7,"x":-1.6,"y":0.581},{"c":7,"x":-1.65,"y":0.898},{"c":7,"x":-1.7,"y":1.209},{"c":7,"x":-1.75,"y":1.529},
{"c":8,"x":-1.5457,"y":0},{"c":8,"x":-1.55,"y":-0.144},{"c":8,"x":-1.56,"y":-0.271},{"c":8,"x":-1.575,"y":-0.402},{"c":8,"x":-1.6,"y":-0.581},{"c":8,"x":-1.65,"y":-0.898},{"c":8,"x":-1.7,"y":-1.209},{"c":8,"x":-1.75,"y":-1.529},
{"c":9,"x":1.5825,"y":0},{"c":9,"x":1.585,"y":0.132},{"c":9,"x":1.59,"y":0.229},{"c":9,"x":1.6,"y":0.356},{"c":9,"x":1.625,"y":0.584},{"c":9,"x":1.65,"y":0.772},{"c":9,"x":1.7,"y":1.119},{"c":9,"x":1.75,"y":1.459},
{"c":10,"x":1.5825,"y":0},{"c":10,"x":1.585,"y":-0.132},{"c":10,"x":1.59,"y":-0.229},{"c":10,"x":1.6,"y":-0.356},{"c":10,"x":1.625,"y":-0.584},{"c":10,"x":1.65,"y":-0.772},{"c":10,"x":1.7,"y":-1.119},{"c":10,"x":1.75,"y":-1.459},
{"c":11,"x":-1.5825,"y":0},{"c":11,"x":-1.585,"y":0.132},{"c":11,"x":-1.59,"y":0.229},{"c":11,"x":-1.6,"y":0.356},{"c":11,"x":-1.625,"y":0.584},{"c":11,"x":-1.65,"y":0.772},{"c":11,"x":-1.7,"y":1.119},{"c":11,"x":-1.75,"y":1.459},
{"c":12,"x":-1.5825,"y":0},{"c":12,"x":-1.585,"y":-0.132},{"c":12,"x":-1.59,"y":-0.229},{"c":12,"x":-1.6,"y":-0.356},{"c":12,"x":-1.625,"y":-0.584},{"c":12,"x":-1.65,"y":-0.772},{"c":12,"x":-1.7,"y":-1.119},{"c":12,"x":-1.75,"y":-1.459}
],
"bB":[
{"c":1,"x":0,"y":0},{"c":1,"x":0.1,"y":0.144},{"c":1,"x":0.2,"y":0.283},{"c":1,"x":0.3,"y":0.41},{"c":1,"x":0.4,"y":0.521},{"c":1,"x":0.5,"y":0.61},{"c":1,"x":0.6,"y":0.67},{"c":1,"x":0.7071,"y":0.694},{"c":1,"x":0.8,"y":0.673},{"c":1,"x":0.9,"y":0.592},{"c":1,"x":1,"y":0.419},{"c":1,"x":1.05,"y":0.25},{"c":1,"x":1.07,"y":0.118},{"c":1,"x":1.0756,"y":0},
{"c":2,"x":0,"y":0},{"c":2,"x":0.1,"y":-0.144},{"c":2,"x":0.2,"y":-0.283},{"c":2,"x":0.3,"y":-0.41},{"c":2,"x":0.4,"y":-0.521},{"c":2,"x":0.5,"y":-0.61},{"c":2,"x":0.6,"y":-0.67},{"c":2,"x":0.7071,"y":-0.694},{"c":2,"x":0.8,"y":-0.673},{"c":2,"x":0.9,"y":-0.592},{"c":2,"x":1,"y":-0.419},{"c":2,"x":1.05,"y":-0.25},{"c":2,"x":1.07,"y":-0.118},{"c":2,"x":1.0756,"y":0},
{"c":3,"x":0,"y":0},{"c":3,"x":-0.1,"y":0.144},{"c":3,"x":-0.2,"y":0.283},{"c":3,"x":-0.3,"y":0.41},{"c":3,"x":-0.4,"y":0.521},{"c":3,"x":-0.5,"y":0.61},{"c":3,"x":-0.6,"y":0.67},{"c":3,"x":-0.7071,"y":0.694},{"c":3,"x":-0.8,"y":0.673},{"c":3,"x":-0.9,"y":0.592},{"c":3,"x":-1,"y":0.419},{"c":3,"x":-1.05,"y":0.25},{"c":3,"x":-1.07,"y":0.118},{"c":3,"x":-1.0756,"y":0},
{"c":4,"x":0,"y":0},{"c":4,"x":-0.1,"y":-0.144},{"c":4,"x":-0.2,"y":-0.283},{"c":4,"x":-0.3,"y":-0.41},{"c":4,"x":-0.4,"y":-0.521},{"c":4,"x":-0.5,"y":-0.61},{"c":4,"x":-0.6,"y":-0.67},{"c":4,"x":-0.7071,"y":-0.694},{"c":4,"x":-0.8,"y":-0.673},{"c":4,"x":-0.9,"y":-0.592},{"c":4,"x":-1,"y":-0.419},{"c":4,"x":-1.05,"y":-0.25},{"c":4,"x":-1.07,"y":-0.118},{"c":4,"x":-1.0756,"y":0},
{"c":5,"x":1.6103,"y":0},{"c":5,"x":1.611,"y":0.077},{"c":5,"x":1.615,"y":0.2},{"c":5,"x":1.625,"y":0.361},{"c":5,"x":1.65,"y":0.622},{"c":5,"x":1.675,"y":0.83},{"c":5,"x":1.7,"y":1.021},{"c":5,"x":1.75,"y":1.385},
{"c":6,"x":1.6103,"y":0},{"c":6,"x":1.611,"y":-0.077},{"c":6,"x":1.615,"y":-0.2},{"c":6,"x":1.625,"y":-0.361},{"c":6,"x":1.65,"y":-0.622},{"c":6,"x":1.675,"y":-0.83},{"c":6,"x":1.7,"y":-1.021},{"c":6,"x":1.75,"y":-1.385},
{"c":7,"x":-1.6103,"y":0},{"c":7,"x":-1.611,"y":0.077},{"c":7,"x":-1.615,"y":0.2},{"c":7,"x":-1.625,"y":0.361},{"c":7,"x":-1.65,"y":0.622},{"c":7,"x":-1.675,"y":0.83},{"c":7,"x":-1.7,"y":1.021},{"c":7,"x":-1.75,"y":1.385},
{"c":8,"x":-1.6103,"y":0},{"c":8,"x":-1.611,"y":-0.077},{"c":8,"x":-1.615,"y":-0.2},{"c":8,"x":-1.625,"y":-0.361},{"c":8,"x":-1.65,"y":-0.622},{"c":8,"x":-1.675,"y":-0.83},{"c":8,"x":-1.7,"y":-1.021},{"c":8,"x":-1.75,"y":-1.385}
],
"bG":[
{"c":1,"x":0.3412,"y":0},{"c":1,"x":0.35,"y":0.096},{"c":1,"x":0.375,"y":0.188},{"c":1,"x":0.4,"y":0.248},{"c":1,"x":0.45,"y":0.337},{"c":1,"x":0.5,"y":0.402},{"c":1,"x":0.6,"y":0.489},{"c":1,"x":0.7071,"y":0.521},{"c":1,"x":0.8,"y":0.492},{"c":1,"x":0.9,"y":0.375},{"c":1,"x":0.95,"y":0.249},{"c":1,"x":0.97,"y":0.158},{"c":1,"x":0.9829,"y":0},
{"c":2,"x":0.3412,"y":0},{"c":2,"x":0.35,"y":-0.096},{"c":2,"x":0.375,"y":-0.188},{"c":2,"x":0.4,"y":-0.248},{"c":2,"x":0.45,"y":-0.337},{"c":2,"x":0.5,"y":-0.402},{"c":2,"x":0.6,"y":-0.489},{"c":2,"x":0.7071,"y":-0.521},{"c":2,"x":0.8,"y":-0.492},{"c":2,"x":0.9,"y":-0.375},{"c":2,"x":0.95,"y":-0.249},{"c":2,"x":0.97,"y":-0.158},{"c":2,"x":0.9829,"y":0},
{"c":3,"x":-0.3412,"y":0},{"c":3,"x":-0.35,"y":0.096},{"c":3,"x":-0.375,"y":0.188},{"c":3,"x":-0.4,"y":0.248},{"c":3,"x":-0.45,"y":0.337},{"c":3,"x":-0.5,"y":0.402},{"c":3,"x":-0.6,"y":0.489},{"c":3,"x":-0.7071,"y":0.521},{"c":3,"x":-0.8,"y":0.492},{"c":3,"x":-0.9,"y":0.375},{"c":3,"x":-0.95,"y":0.249},{"c":3,"x":-0.97,"y":0.158},{"c":3,"x":-0.9829,"y":0},
{"c":4,"x":-0.3412,"y":0},{"c":4,"x":-0.35,"y":-0.096},{"c":4,"x":-0.375,"y":-0.188},{"c":4,"x":-0.4,"y":-0.248},{"c":4,"x":-0.45,"y":-0.337},{"c":4,"x":-0.5,"y":-0.402},{"c":4,"x":-0.6,"y":-0.489},{"c":4,"x":-0.7071,"y":-0.521},{"c":4,"x":-0.8,"y":-0.492},{"c":4,"x":-0.9,"y":-0.375},{"c":4,"x":-0.95,"y":-0.249},{"c":4,"x":-0.97,"y":-0.158},{"c":4,"x":-0.9829,"y":0},
{"c":5,"x":0.4417,"y":0},{"c":5,"x":0.45,"y":0.092},{"c":5,"x":0.475,"y":0.182},{"c":5,"x":0.5,"y":0.239},{"c":5,"x":0.55,"y":0.315},{"c":5,"x":0.6,"y":0.365},{"c":5,"x":0.7071,"y":0.408},{"c":5,"x":0.8,"y":0.371},{"c":5,"x":0.85,"y":0.31},{"c":5,"x":0.9,"y":0.189},{"c":5,"x":0.92,"y":0.08},{"c":5,"x":0.9241,"y":0},
{"c":6,"x":0.4417,"y":0},{"c":6,"x":0.45,"y":-0.092},{"c":6,"x":0.475,"y":-0.182},{"c":6,"x":0.5,"y":-0.239},{"c":6,"x":0.55,"y":-0.315},{"c":6,"x":0.6,"y":-0.365},{"c":6,"x":0.7071,"y":-0.408},{"c":6,"x":0.8,"y":-0.371},{"c":6,"x":0.85,"y":-0.31},{"c":6,"x":0.9,"y":-0.189},{"c":6,"x":0.92,"y":-0.08},{"c":6,"x":0.9241,"y":0},
{"c":7,"x":-0.4417,"y":0},{"c":7,"x":-0.45,"y":0.092},{"c":7,"x":-0.475,"y":0.182},{"c":7,"x":-0.5,"y":0.239},{"c":7,"x":-0.55,"y":0.315},{"c":7,"x":-0.6,"y":0.365},{"c":7,"x":-0.7071,"y":0.408},{"c":7,"x":-0.8,"y":0.371},{"c":7,"x":-0.85,"y":0.31},{"c":7,"x":-0.9,"y":0.189},{"c":7,"x":-0.92,"y":0.08},{"c":7,"x":-0.9241,"y":0},
{"c":8,"x":-0.4417,"y":0},{"c":8,"x":-0.45,"y":-0.092},{"c":8,"x":-0.475,"y":-0.182},{"c":8,"x":-0.5,"y":-0.239},{"c":8,"x":-0.55,"y":-0.315},{"c":8,"x":-0.6,"y":-0.365},{"c":8,"x":-0.7071,"y":-0.408},{"c":8,"x":-0.8,"y":-0.371},{"c":8,"x":-0.85,"y":-0.31},{"c":8,"x":-0.9,"y":-0.189},{"c":8,"x":-0.92,"y":-0.08},{"c":8,"x":-0.9241,"y":0},
{"c":9,"x":1.6332,"y":0},{"c":9,"x":1.635,"y":0.132},{"c":9,"x":1.64,"y":0.262},{"c":9,"x":1.65,"y":0.42},{"c":9,"x":1.675,"y":0.692},{"c":9,"x":1.7,"y":0.912},{"c":9,"x":1.75,"y":1.307},
{"c":10,"x":1.6332,"y":0},{"c":10,"x":1.635,"y":-0.132},{"c":10,"x":1.64,"y":-0.262},{"c":10,"x":1.65,"y":-0.42},{"c":10,"x":1.675,"y":-0.692},{"c":10,"x":1.7,"y":-0.912},{"c":10,"x":1.75,"y":-1.307},
{"c":11,"x":-1.6332,"y":0},{"c":11,"x":-1.635,"y":0.132},{"c":11,"x":-1.64,"y":0.262},{"c":11,"x":-1.65,"y":0.42},{"c":11,"x":-1.675,"y":0.692},{"c":11,"x":-1.7,"y":0.912},{"c":11,"x":-1.75,"y":1.307},
{"c":12,"x":-1.6332,"y":0},{"c":12,"x":-1.635,"y":-0.132},{"c":12,"x":-1.64,"y":-0.262},{"c":12,"x":-1.65,"y":-0.42},{"c":12,"x":-1.675,"y":-0.692},{"c":12,"x":-1.7,"y":-0.912},{"c":12,"x":-1.75,"y":-1.307},
{"c":13,"x":1.6434,"y":0},{"c":13,"x":1.645,"y":0.128},{"c":13,"x":1.65,"y":0.267},{"c":13,"x":1.675,"y":0.611},{"c":13,"x":1.7,"y":0.852},{"c":13,"x":1.75,"y":1.266},
{"c":14,"x":1.6434,"y":0},{"c":14,"x":1.645,"y":-0.128},{"c":14,"x":1.65,"y":-0.267},{"c":14,"x":1.675,"y":-0.611},{"c":14,"x":1.7,"y":-0.852},{"c":14,"x":1.75,"y":-1.266},
{"c":15,"x":-1.6434,"y":0},{"c":15,"x":-1.645,"y":0.128},{"c":15,"x":-1.65,"y":0.267},{"c":15,"x":-1.675,"y":0.611},{"c":15,"x":-1.7,"y":0.852},{"c":15,"x":-1.75,"y":1.266},
{"c":16,"x":-1.6434,"y":0},{"c":16,"x":-1.645,"y":-0.128},{"c":16,"x":-1.65,"y":-0.267},{"c":16,"x":-1.675,"y":-0.611},{"c":16,"x":-1.7,"y":-0.852},{"c":16,"x":-1.75,"y":-1.266}
],
"bS":[
{"x":-0.7071,"y":0,"s":"Stable"},{"x":0.7071,"y":0,"s":"Stable"},{"x":-1.4142,"y":0,"s":"Unstable"},{"x":0,"y":0,"s":"Unstable"},{"x":1.4142,"y":0,"s":"Unstable"}
]
},
"hconcat":[
{
"width":312,"height":235,
"title":{"text":"(a)","orient":"bottom","anchor":"start","frame":"group","dx":-49,"dy":-14},
"encoding":{
"x":{"field":"x","type":"quantitative","scale":{"domain":[-1.8,1.8],"nice":false,"zero":false},"axis":{"values":[-1.5,-1,-0.5,0,0.5,1,1.5],"format":"~g","labelExpr":"replace(datum.label,'\u2212','-')","title":"ψ(ζ)"}},
"y":{"field":"y","type":"quantitative","scale":{"domain":[-1.4,1.4],"nice":false,"zero":false},"axis":{"values":[-1,-0.5,0,0.5,1],"format":"~g","labelExpr":"replace(datum.label,'\u2212','-')","title":"R(ζ)"}}
},
"layer":[
{"data":{"name":"aO"},"mark":{"type":"line","color":"#D95319","clip":true},"encoding":{"detail":{"field":"c","type":"nominal"}}},
{"data":{"name":"aP"},"mark":{"type":"line","color":"#7E2F8E","clip":true},"encoding":{"detail":{"field":"c","type":"nominal"}}},
{"data":{"name":"aG"},"mark":{"type":"line","color":"#00FF00","clip":true},"encoding":{"detail":{"field":"c","type":"nominal"}}},
{"data":{"name":"aB"},"mark":{"type":"line","color":"#0000FF","clip":true},"encoding":{"detail":{"field":"c","type":"nominal"}}},
{"data":{"name":"aS"},"mark":{"type":"point","filled":true,"size":60,"color":"#7D0F80","opacity":1},
 "encoding":{"shape":{"field":"s","type":"nominal","scale":{"domain":["Stable","Unstable"],"range":["square","circle"]},
 "legend":{"orient":"bottom-right","offset":7,"title":null,"fillColor":"#ffffff","strokeColor":"#262626","padding":4,"labelFont":"Liberation Serif","labelFontSize":14,"labelColor":"#000000","symbolSize":45,"symbolFillColor":"#7D0F80","symbolStrokeColor":"#7D0F80","rowPadding":1,"labelOffset":4}}}}
]
},
{
"width":312,"height":235,
"title":{"text":"(b)","orient":"bottom","anchor":"start","frame":"group","dx":-47,"dy":-14},
"encoding":{
"x":{"field":"x","type":"quantitative","scale":{"domain":[-1.7,1.7],"nice":false,"zero":false},"axis":{"values":[-1.5,-1,-0.5,0,0.5,1,1.5],"format":"~g","labelExpr":"replace(datum.label,'\u2212','-')","title":"ψ(ζ)"}},
"y":{"field":"y","type":"quantitative","scale":{"domain":[-1.335,1.335],"nice":false,"zero":false},"axis":{"values":[-1,-0.5,0,0.5,1],"format":"~g","labelExpr":"replace(datum.label,'\u2212','-')","title":"R(ζ)"}}
},
"layer":[
{"data":{"name":"bO"},"mark":{"type":"line","color":"#D95319","clip":true},"encoding":{"detail":{"field":"c","type":"nominal"}}},
{"data":{"name":"bP"},"mark":{"type":"line","color":"#7E2F8E","clip":true},"encoding":{"detail":{"field":"c","type":"nominal"}}},
{"data":{"name":"bG"},"mark":{"type":"line","color":"#00FF00","clip":true},"encoding":{"detail":{"field":"c","type":"nominal"}}},
{"data":{"name":"bB"},"mark":{"type":"line","color":"#0000FF","clip":true},"encoding":{"detail":{"field":"c","type":"nominal"}}},
{"data":{"name":"bR"},"mark":{"type":"line","color":"#FF0000","clip":true},"encoding":{"detail":{"field":"c","type":"nominal"}}},
{"data":{"name":"bS"},"mark":{"type":"point","filled":true,"size":60,"color":"#7D0F80","opacity":1},
 "encoding":{"shape":{"field":"s","type":"nominal","scale":{"domain":["Stable","Unstable"],"range":["square","circle"]},
 "legend":{"orient":"bottom-right","offset":7,"title":null,"fillColor":"#ffffff","strokeColor":"#262626","padding":4,"labelFont":"Liberation Serif","labelFontSize":14,"labelColor":"#000000","symbolSize":45,"symbolFillColor":"#7D0F80","symbolStrokeColor":"#7D0F80","rowPadding":1,"labelOffset":4}}}}
]
}
],
"resolve":{"scale":{"x":"independent","y":"independent","shape":"independent"},"legend":{"shape":"independent"}},
"config":{
"view":{"stroke":"#262626","strokeWidth":1},
"line":{"interpolate":"monotone","strokeWidth":1.5},
"title":{"font":"Liberation Sans","fontSize":12,"fontWeight":"bold","color":"#000000"},
"axis":{"labelFont":"Liberation Sans","labelFontSize":11,"labelColor":"#262626","titleFont":"Liberation Serif","titleFontStyle":"italic","titleFontWeight":"normal","titleFontSize":17,"titleColor":"#262626","grid":true,"gridColor":"#e3e3e3","domain":false,"tickColor":"#262626","tickSize":-3,"labelPadding":8},
"axisX":{"titlePadding":4,"labelPadding":10},
"axisY":{"titlePadding":5}
}
}
